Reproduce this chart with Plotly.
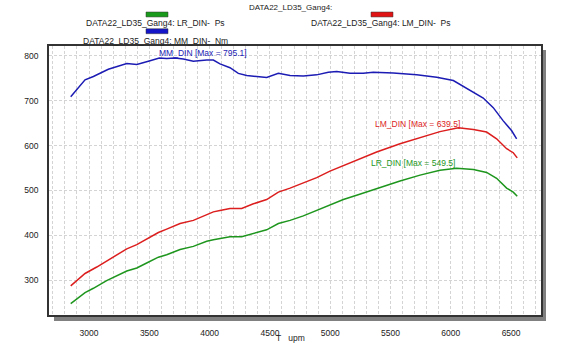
import plotly.graph_objects as go

# ---- data ----
rpm_mm = [2848, 2967, 3036, 3160, 3313, 3396, 3492, 3583, 3644, 3713, 3782, 3865, 3976, 4031,
          4086, 4169, 4238, 4308, 4391, 4473, 4570, 4667, 4777, 4888, 4984, 5054, 5164, 5274,
          5357, 5523, 5717, 5883, 6021, 6132, 6269, 6352, 6435, 6505, 6546]
mm_din = [709, 746.6, 754, 770, 783, 781, 788, 795.1, 794, 795, 793, 788, 790.6, 790.6,
          782, 773.6, 761, 756, 754, 752, 761, 756, 755, 757.6, 763.5, 765, 761, 761,
          763.5, 762, 757.6, 752.5, 745, 728, 706, 684.5, 655, 633, 615]

rpm_lm = [2848, 2967, 3064, 3174, 3313, 3396, 3478, 3575, 3644, 3755, 3865, 3976, 4031, 4086,
          4169, 4266, 4363, 4473, 4570, 4667, 4777, 4888, 4998, 5109, 5219, 5330, 5385, 5579,
          5745, 5910, 6062, 6187, 6297, 6380, 6463, 6518, 6551]
lm_din = [287, 314.6, 329, 347.6, 369.5, 379, 391.5, 406, 413.5, 426, 433, 446, 452, 455,
          459.6, 459.6, 470, 479.5, 496, 505, 516, 528.5, 543, 555, 566, 578, 585.6, 604,
          617, 631, 639.5, 635.6, 630, 615, 593, 584, 572.5]

rpm_lr = [2848, 2967, 3036, 3146, 3313, 3396, 3478, 3575, 3644, 3755, 3865, 3976, 4031, 4086,
          4169, 4266, 4363, 4473, 4570, 4667, 4777, 4888, 4998, 5109, 5219, 5330, 5385, 5579,
          5745, 5910, 6048, 6187, 6297, 6380, 6463, 6518, 6551]
lr_din = [247.4, 272, 281.6, 298.6, 320, 327, 338, 351, 356.3, 368, 375, 386.5, 390, 393,
          396.7, 396.7, 404, 412, 426, 433, 443, 455, 468.5, 479.5, 489, 499, 503.5, 521,
          534, 545, 549.5, 546.7, 540, 527, 505, 496, 487]

x_ticks = [3000, 3500, 4000, 4500, 5000, 5500, 6000, 6500]
y_ticks = [300, 400, 500, 600, 700, 800]

legend_title = "DATA22_LD35_Gang4:"
legend_lr = "DATA22_LD35_Gang4: LR_DIN-  Ps"
legend_lm = "DATA22_LD35_Gang4: LM_DIN-  Ps"
legend_mm = "DATA22_LD35_Gang4: MM_DIN-  Nm"

C_MM = "#1c1cb4"
C_LM = "#dc1e1e"
C_LR = "#1e961e"

FONT = "Liberation Sans, Arial, sans-serif"
W, H = 570, 350
L, R, T, B = 49, 541, 46, 319


def px(xp):
    return (xp - L) / (R - L)


def py(yp):
    return (B - yp) / (B - T)


fig = go.Figure()
fig.add_trace(go.Scatter(x=rpm_lr, y=lr_din, mode="lines", line=dict(color=C_LR, width=1.5),
                         showlegend=False, hoverinfo="skip"))
fig.add_trace(go.Scatter(x=rpm_lm, y=lm_din, mode="lines", line=dict(color=C_LM, width=1.5),
                         showlegend=False, hoverinfo="skip"))
fig.add_trace(go.Scatter(x=rpm_mm, y=mm_din, mode="lines", line=dict(color=C_MM, width=1.5),
                         showlegend=False, hoverinfo="skip"))

shapes = [
    # drop shadow
    dict(type="rect", xref="paper", yref="paper", x0=px(542), x1=px(546), y0=py(325), y1=py(50),
         fillcolor="#808080", line=dict(width=0), layer="below"),
    dict(type="rect", xref="paper", yref="paper", x0=px(54), x1=px(546), y0=py(325), y1=py(320),
         fillcolor="#808080", line=dict(width=0), layer="below"),
    # legend swatches
    dict(type="rect", xref="paper", yref="paper", x0=px(146), x1=px(168), y0=py(16.5), y1=py(11.5),
         fillcolor="#1a9a1a", line=dict(width=0.5, color="#333")),
    dict(type="rect", xref="paper", yref="paper", x0=px(371), x1=px(393), y0=py(16.5), y1=py(11.5),
         fillcolor="#e01414", line=dict(width=0.5, color="#333")),
    dict(type="rect", xref="paper", yref="paper", x0=px(146), x1=px(168), y0=py(33.5), y1=py(28.5),
         fillcolor="#1414c8", line=dict(width=0.5, color="#333")),
]

tf = dict(family=FONT, size=8.5, color="#222")
annotations = [
    dict(text=legend_title, xref="paper", yref="paper", x=px(290), y=py(0), xanchor="center",
         yanchor="top", showarrow=False, font=dict(family=FONT, size=8, color="#222")),
    dict(text=legend_lr, xref="paper", yref="paper", x=px(155), y=py(23), xanchor="center",
         yanchor="middle", showarrow=False, font=tf),
    dict(text=legend_lm, xref="paper", yref="paper", x=px(381), y=py(23), xanchor="center",
         yanchor="middle", showarrow=False, font=tf),
    dict(text=legend_mm, xref="paper", yref="paper", x=px(155.5), y=py(40.5), xanchor="center",
         yanchor="middle", showarrow=False, font=tf),
    dict(text="T\u00a0\u00a0\u00a0upm", xref="paper", yref="paper", x=px(290), y=py(342.5),
         xanchor="center", yanchor="middle", showarrow=False, font=tf),
    dict(text="MM_DIN [Max = 795.1]", x=3945, y=806, xanchor="center", yanchor="middle",
         showarrow=False, font=dict(family=FONT, size=8.5, color=C_MM)),
    dict(text="LM_DIN [Max = 639.5]", x=5726, y=649, xanchor="center", yanchor="middle",
         showarrow=False, font=dict(family=FONT, size=8.5, color=C_LM)),
    dict(text="LR_DIN [Max = 549.5]", x=5687, y=560.6, xanchor="center", yanchor="middle",
         showarrow=False, font=dict(family=FONT, size=8.5, color=C_LR)),
]

grid = dict(gridcolor="#d4d4d4", griddash="3px,2px", gridwidth=1)
fig.update_layout(
    width=W, height=H,
    margin=dict(l=L, r=W - R, t=T, b=H - B, pad=0),
    paper_bgcolor="white", plot_bgcolor="white",
    font=dict(family=FONT, size=8.5, color="#222"),
    shapes=shapes, annotations=annotations,
    xaxis=dict(range=[2668, 6748], tickvals=x_ticks, showgrid=True, **grid,
               minor=dict(dtick=100, showgrid=True, gridcolor="#d4d4d4", griddash="3px,2px"),
               showline=True, linecolor="#333", linewidth=1.5, mirror=True,
               ticks="outside", ticklen=9, tickcolor="rgba(0,0,0,0)", zeroline=False,
               tickfont=dict(family=FONT, size=8.5, color="#222")),
    yaxis=dict(range=[222, 822], tickvals=y_ticks, showgrid=True, **grid,
               showline=True, linecolor="#333", linewidth=1.5, mirror=True,
               ticks="outside", ticklen=7, tickcolor="rgba(0,0,0,0)", zeroline=False,
               tickfont=dict(family=FONT, size=8.5, color="#222")),
)

fig.write_html("out.html")
